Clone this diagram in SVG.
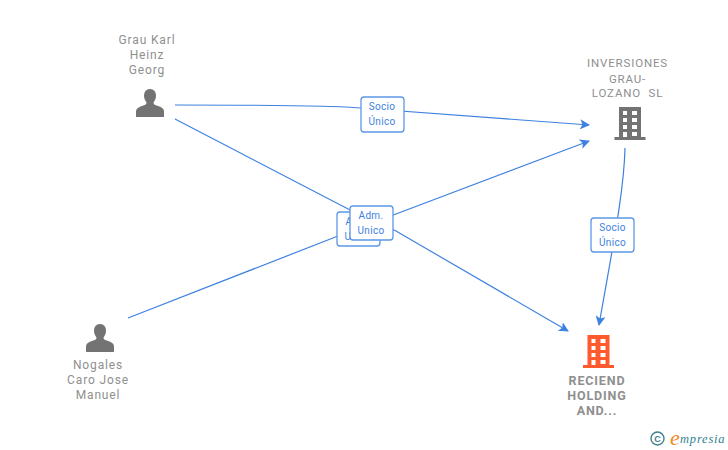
<svg xmlns="http://www.w3.org/2000/svg" width="728" height="450" viewBox="0 0 728 450">
<style>
.n{font:12px Roboto,"Liberation Sans",sans-serif;fill:#8f8f8f;text-anchor:middle;letter-spacing:.85px}
.b{font-weight:bold}
.l{font:10px Roboto,"Liberation Sans",sans-serif;fill:#3d82e0;text-anchor:middle;letter-spacing:.3px}
.c{fill:none;stroke:#3d82e0;stroke-width:1.2;marker-end:url(#a)}
.box{fill:#fff;stroke:#5c96e6;stroke-width:1.3}
.p{fill:#737373}
</style>
<defs>
<marker id="a" viewBox="0 0 10 10" refX="9" refY="5" markerWidth="10" markerHeight="10" markerUnits="userSpaceOnUse" orient="auto"><path d="M0 0L10 5L0 10L2.500 5Z" fill="#3d82e0"/></marker>
<path id="person" d="M0 -14C4 -14 6 -11 6 -7C6 -4 4.500 -2 3.500 -.5C3.500 1.500 5 2 8 3C12 4.500 14 5.500 14 9V14H-14V9C-14 5.500 -12 4.500 -8 3C-5 2 -3.500 1.500 -3.500 -.5C-4.500 -2 -6 -4 -6 -7C-6 -11 -4 -14 0 -14Z"/>
<path id="bld" fill-rule="evenodd" d="M-11 -17H11V13H15.500V16H-15.500V13H-11ZM-7 -13V-9H-3V-13ZM2 -13V-9H7V-13ZM-7 -6V-2H-3V-6ZM2 -6V-2H7V-6ZM-7 1V5H-3V1ZM2 1V5H7V1ZM-7 8V13H-3V8ZM2 8V12H7V8Z"/>
</defs>
<g id="connectors">
<path class="c" d="M175 105C270 105 340 106 360 108L589 125"/>
<path class="c" d="M175 119L352 211L396 231L568 331"/>
<path class="c" d="M128 318L338 236L396 214L589 141"/>
<path class="c" d="M625 148C624 190 614 240 599 325"/>
</g>
<g id="node-grau">
<text class="n"><tspan x="147" y="44">Grau Karl</tspan><tspan x="147" y="59">Heinz</tspan><tspan x="147" y="74">Georg</tspan></text>
<use href="#person" class="p" x="150" y="103"/>
</g>
<g id="node-nogales">
<text class="n"><tspan x="98" y="369">Nogales</tspan><tspan x="98" y="384">Caro Jose</tspan><tspan x="98" y="399">Manuel</tspan></text>
<use href="#person" class="p" x="100" y="338"/>
</g>
<g id="node-inversiones">
<text class="n" style="font-size:11.500px"><tspan x="627.500" y="67">INVERSIONES</tspan><tspan x="627.500" y="83">GRAU-</tspan><tspan x="627.500" y="97" xml:space="preserve">LOZANO  SL</tspan></text>
<use href="#bld" class="p" x="630" y="124"/>
</g>
<g id="node-reciend">
<use href="#bld" x="598.500" y="352" fill="#ff5a2d"/>
<text class="n b" style="font-size:12.500px"><tspan x="597" y="385">RECIEND</tspan><tspan x="597" y="400">HOLDING</tspan><tspan x="597" y="415">AND...</tspan></text>
</g>
<g id="label-socio-1">
<rect class="box" x="361" y="97" width="43" height="35" rx="3"/>
<text class="l"><tspan x="382" y="110">Socio</tspan><tspan x="382" y="125">Único</tspan></text>
</g>
<g id="label-adm-2">
<rect class="box" x="337" y="212" width="43" height="34" rx="3"/>
<text class="l"><tspan x="358" y="225">Adm.</tspan><tspan x="358" y="240">Unico</tspan></text>
</g>
<g id="label-adm-1">
<rect class="box" x="350" y="206" width="43" height="34" rx="3"/>
<text class="l"><tspan x="371" y="219">Adm.</tspan><tspan x="371" y="234">Unico</tspan></text>
</g>
<g id="label-socio-2">
<rect class="box" x="591" y="218" width="43" height="34" rx="3"/>
<text class="l"><tspan x="612.500" y="231">Socio</tspan><tspan x="612.500" y="246">Único</tspan></text>
</g>
<g id="watermark">
<circle cx="657.500" cy="438.500" r="6.500" fill="none" stroke="#3f7f8f" stroke-width="1.400"/>
<text x="657.500" y="441.500" style="font:bold 9px 'Liberation Sans',sans-serif;fill:#3f7f8f;text-anchor:middle">C</text>
<text x="670" y="445" style="font:italic 22px 'Liberation Serif',serif;fill:#f08a1e">e</text>
<text x="680" y="443" style="font:italic 12.500px 'Liberation Serif',serif;fill:#2f7f8f;letter-spacing:.8px">mpresia</text>
</g>
</svg>
